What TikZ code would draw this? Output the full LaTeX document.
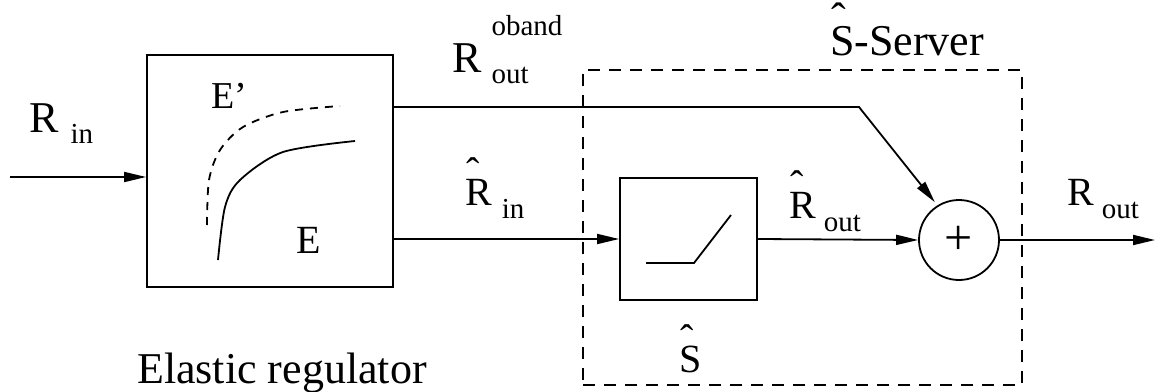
\documentclass[tikz,border=0pt]{standalone}
\usepackage{fontspec}
\setmainfont{Liberation Serif}
\usetikzlibrary{positioning, arrows.meta}
\newcommand{\bigsz}{\fontsize{44}{44}\selectfont}
\newcommand{\midsz}{\fontsize{40}{40}\selectfont}
\newcommand{\subsz}{\fontsize{29}{29}\selectfont}
\newcommand{\hatover}[1]{\ooalign{#1\cr\hspace{1pt}\raisebox{0.48em}{\char"02C6}\cr}}
\tikzset{
  block/.style   = {rectangle, draw, line width=1.8pt, inner sep=0pt},
  sumnode/.style = {circle, draw, line width=1.8pt, minimum size=80pt,
                    inner sep=0pt, font=\fontsize{50}{50}\selectfont},
  grp/.style     = {rectangle, draw, line width=1.6pt,
                    dash pattern=on 12pt off 9pt, inner sep=0pt},
  lbl/.style     = {inner sep=0pt, anchor=base west},
  arr/.style     = {-{Triangle[length=22pt,width=10pt]}, line width=1.8pt},
  curve/.style   = {line width=1.8pt},
}

\begin{document}
\begin{tikzpicture}[x=1pt, y=-1pt]
  \useasboundingbox (0,0) rectangle (1162,391);

  % blocks
  \node[grp, minimum width=439pt, minimum height=315pt] (srv) at (802.5,227.5) {};
  \node[block, minimum width=246pt, minimum height=232pt] (er) at (270,171) {};
  \node[block, minimum width=137pt, minimum height=122pt] (sh) at (688.5,239) {};
  \node[sumnode] (sum) at (959,240) {+};

  \coordinate (src)  at (10,177);
  \coordinate (kink) at (859,107);
  \coordinate (dst)  at (1155,240);

  % connectors
  \draw[arr] (src) -- (src -| er.west);
  \draw[arr, shorten >=4pt] (er.east |- kink) -- (kink) -- (sum.122);
  \draw[arr] (er.east |- sh.west) -- (sh.west);
  \draw[arr] (sh.east) -- (sum.west);
  \draw[arr] (sum.east) -- (dst);

  % curves inside the regulator and the server
  \draw[curve, dash pattern=on 8pt off 7pt] plot[smooth] coordinates
    {(207,225) (209,180) (220,150) (243,127) (283,112) (340,106)};
  \draw[curve] plot[smooth] coordinates
    {(218,260) (225,207) (240,180) (283,152) (355,141)};
  \draw[curve] (646,263) -- (694,263) -- (731,215);

  % labels
  \node[lbl, font=\bigsz] (rin) at (29,132)
    {R\hspace{12pt}\raisebox{-11pt}{\subsz in}};
  \node[lbl, font=\bigsz] (rob) at (452,72)
    {R\hspace{10pt}\rlap{\raisebox{37pt}{\subsz oband}}\raisebox{-11pt}{\subsz out}};
  \node[lbl, font=\midsz] (rhin) at (465,205)
    {\hatover{R}\hspace{10pt}\raisebox{-13pt}{\subsz in}};
  \node[lbl, font=\midsz] (rhout) at (789,218)
    {\hatover{R}\hspace{8pt}\raisebox{-13pt}{\subsz out}};
  \node[lbl, font=\midsz] (rout) at (1067,205)
    {R\hspace{8pt}\raisebox{-13pt}{\subsz out}};
  \node[lbl, font=\bigsz] (srvlbl) at (830,55) {\hatover{S}-Server};
  \node[lbl, font=\midsz] (shlbl) at (679,372) {\hatover{S}};
  \node[lbl, font=\fontsize{38}{38}\selectfont] (ep) at (211,108) {E'};
  \node[lbl, font=\midsz] (e) at (296,253) {E};
  \node[lbl, font=\bigsz] (erlbl) at (137,383) {Elastic regulator};

\end{tikzpicture}
\end{document}
